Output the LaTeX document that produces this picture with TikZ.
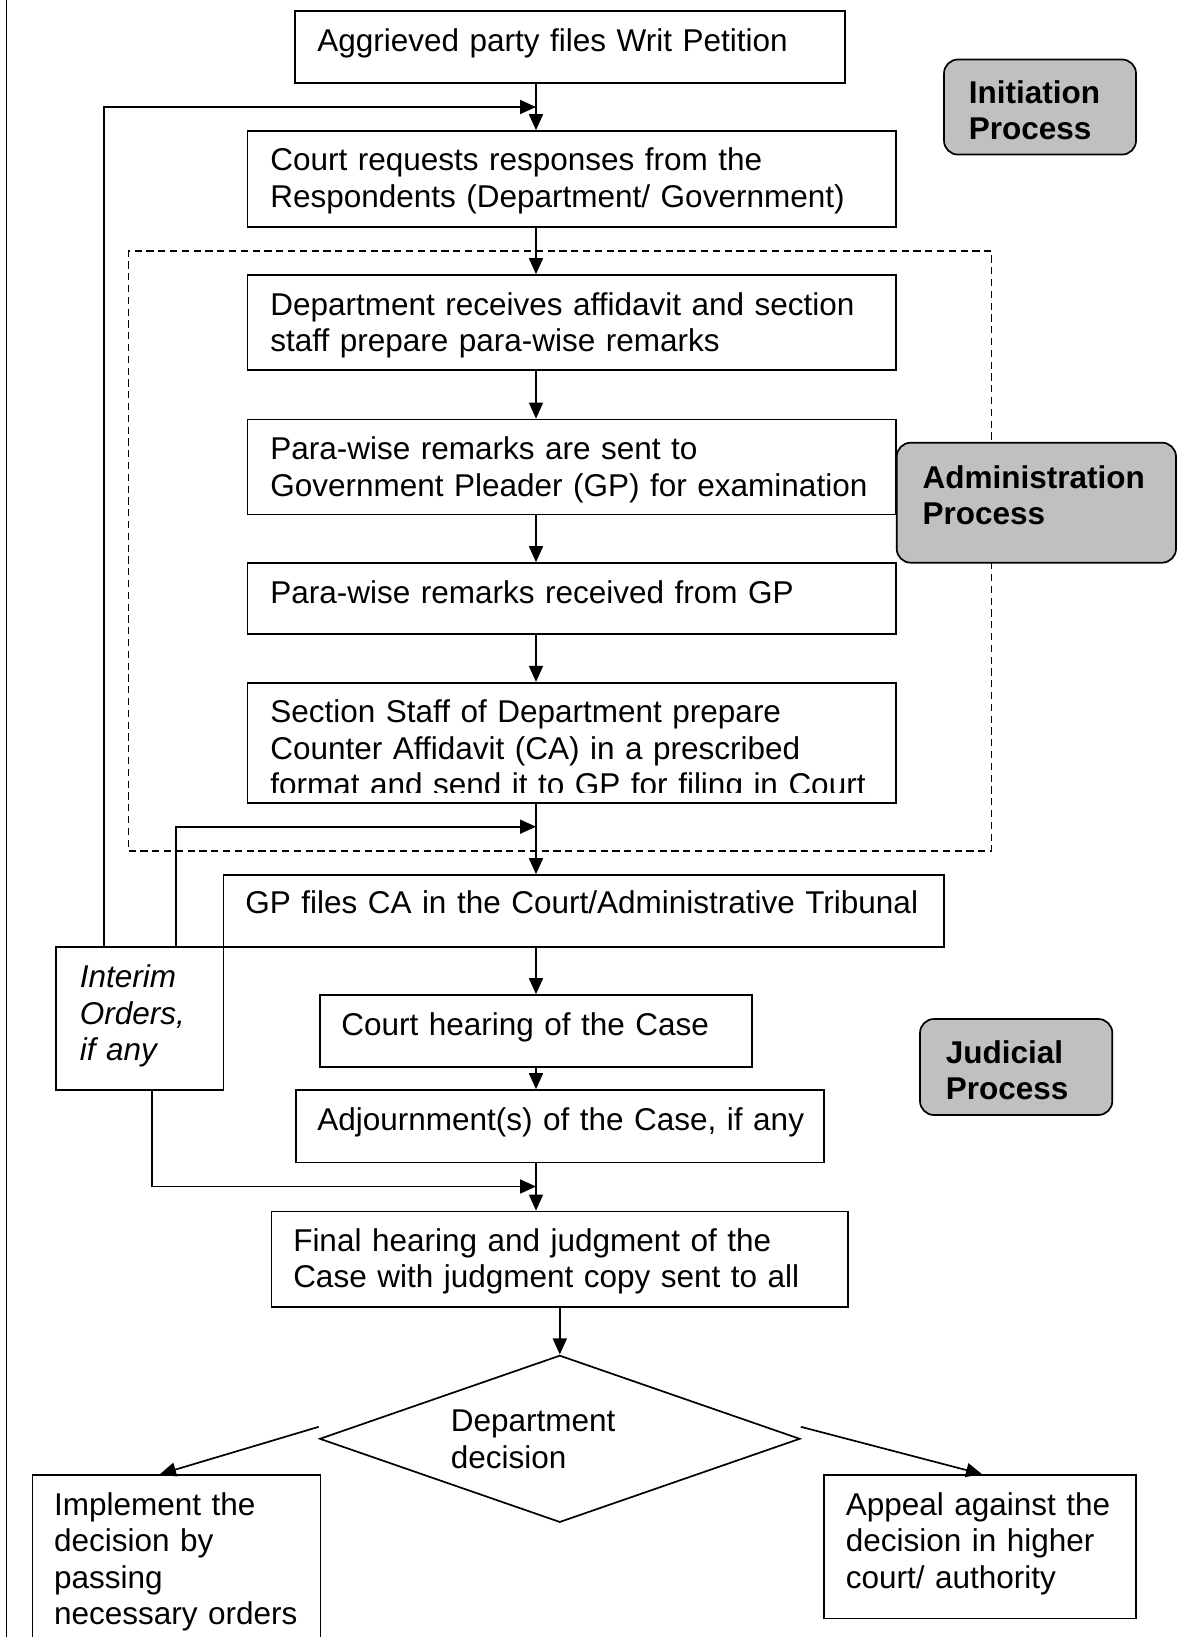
\documentclass[tikz,border=0pt]{standalone}
\usepackage{fontspec}
\setmainfont{Liberation Sans}
\usetikzlibrary{arrows.meta,fit,shapes.geometric,calc}
\definecolor{procgray}{HTML}{C0C0C0}
\hyphenpenalty=10000
\exhyphenpenalty=10000
\begin{document}
\begin{tikzpicture}[x=0.5pt,y=-0.5pt,line width=0.85pt,
  stepbox/.style={draw=black,fill=white,inner sep=0pt,rectangle},
  procbox/.style={draw=black,fill=procgray,inner sep=0pt,rounded corners=7pt},
  frame/.style={draw=black,line width=0.75pt,inner sep=0pt,dash pattern=on 3.6pt off 2.3pt},
  txt/.style={anchor=base west,inner sep=0pt,align=left,text width=#1,
    font=\fontsize{15.75pt}{18.25pt}\selectfont},
  arr/.style={-{Triangle[length=8pt,width=7pt]}},
]
\useasboundingbox (0,0) rectangle (1177,1637);
\clip (0,0) rectangle (1177,1637);

% axis coordinates
\coordinate (ax) at (536,0);
\coordinate (f1x) at (104,0);
\coordinate (f2x) at (175.7,0);
\coordinate (f3x) at (152,0);
\coordinate (fb1) at (536,107);
\coordinate (fb2) at (536,826.7);
\coordinate (fb3) at (536,1186.5);

% left border
\draw (6.5,0) -- (6.5,1637);

% dashed administration frame
\node[frame,fit={(128.5,251) (991.5,851)}] (admframe) {};

% process boxes
\node[stepbox,fit={(295.3,11) (845,82.7)}] (A) {};
\node[stepbox,fit={(247.5,131) (896,226.7)}] (B) {};
\node[stepbox,fit={(247.5,275) (896,369.7)}] (C) {};
\node[stepbox,fit={(247.5,419.5) (896,514.5)}] (D) {};
\node[stepbox,fit={(247.5,563) (896,634)}] (E) {};
\node[stepbox,fit={(247.5,682.7) (896,803.3)}] (F) {};
\node[stepbox,fit={(223.5,875) (944,947.3)}] (G) {};
\node[stepbox,fit={(55.7,947.3) (223.5,1090)}] (Int) {};
\node[stepbox,fit={(320,995) (752,1066.7)}] (H) {};
\node[stepbox,fit={(296,1090) (824,1162.4)}] (I) {};
\node[stepbox,fit={(271.5,1211.5) (848,1306.7)}] (J) {};
\node[draw=black,fill=white,shape=diamond,inner sep=0pt,
      minimum width=240.2pt,minimum height=83.5pt] (Dia) at (559.8,1438.8) {};
\node[stepbox,fit={(32.4,1475) (320.6,1665)}] (K) {};
\node[stepbox,fit={(824.3,1475) (1136,1618.5)}] (L) {};

% grey stage labels
\node[procbox,fit={(944,59.5) (1136,154.6)}] (Init) {};
\node[procbox,fit={(896.7,442.7) (1176,562.7)}] (Adm) {};
\node[procbox,fit={(920,1019) (1112.3,1115)}] (Jud) {};

% texts
\node[txt=264pt] (tA) at (316.5,51.7) {Aggrieved party files Writ Petition};
\node[txt=313pt] (tB) at (269.5,171) {Court requests responses from the\\Respondents (Department/ Government)};
\node[txt=313pt] (tC) at (269.5,315) {Department receives affidavit and section\\staff prepare para-wise remarks};
\node[txt=313pt] (tD) at (269.5,459.5) {Para-wise remarks are sent to\\Government Pleader (GP) for examination};
\node[txt=313pt] (tE) at (269.5,603) {Para-wise remarks received from GP};
\begin{scope}
  \clip (F.north west) rectangle ($(F.south east)+(0,-11.6)$);
  \node[txt=313pt] (tF) at (269.5,722.7) {Section Staff of Department prepare\\Counter Affidavit (CA) in a prescribed\\format and send it to GP for filing in Court};
\end{scope}
\node[txt=349pt] (tG) at (244.4,913.3) {GP files CA in the Court/Administrative Tribunal};
\node[txt=72pt] (tInt) at (79,987.7) {\itshape Interim\\Orders,\\if any};
\node[txt=205pt] (tH) at (340.5,1035) {Court hearing of the Case};
\node[txt=253pt] (tI) at (316.5,1130.5) {Adjournment(s) of the Case, if any};
\node[txt=277pt] (tJ) at (292.4,1251.3) {Final hearing and judgment of the\\Case with judgment copy sent to all};
\node[txt=100pt] (tDia) at (450,1431.7) {Department\\decision};
\node[txt=133pt] (tK) at (53.3,1515) {Implement the\\decision by\\passing\\necessary orders};
\node[txt=145pt] (tL) at (845,1515) {Appeal against the\\decision in higher\\court/ authority};
\node[txt=84pt] (tInit) at (968,103.5) {\bfseries Initiation\\Process};
\node[txt=126pt] (tAdm) at (921.7,488.3) {\bfseries Administration\\Process};
\node[txt=83pt] (tJud) at (945,1063.3) {\bfseries Judicial\\Process};

% main flow connectors
\draw[arr] (A.south -| ax) -- (B.north -| ax);
\draw[arr] (B.south -| ax) -- (C.north -| ax);
\draw[arr] (C.south -| ax) -- (D.north -| ax);
\draw[arr] (D.south -| ax) -- (E.north -| ax);
\draw[arr] (E.south -| ax) -- (F.north -| ax);
\draw[arr] (F.south -| ax) -- (G.north -| ax);
\draw[arr] (G.south -| ax) -- (H.north -| ax);
\draw[arr] (H.south -| ax) -- (I.north -| ax);
\draw[arr] (I.south -| ax) -- (J.north -| ax);
\draw[arr] (J.south -| Dia.north) -- (Dia.north);

% interim-order feedback connectors
\draw[arr] (Int.north -| f1x) |- (fb1);
\draw[arr] (Int.north -| f2x) |- (fb2);
\draw[arr] (Int.south -| f3x) |- (fb3);

% decision outcomes
\draw[arr] ($(Dia.west)+(0,-12)$) -- ($(K.north west)!0.443!(K.north east)$);
\draw[arr] ($(Dia.east)+(0,-12)$) -- ($(L.north west)!0.506!(L.north east)$);
\end{tikzpicture}
\end{document}
